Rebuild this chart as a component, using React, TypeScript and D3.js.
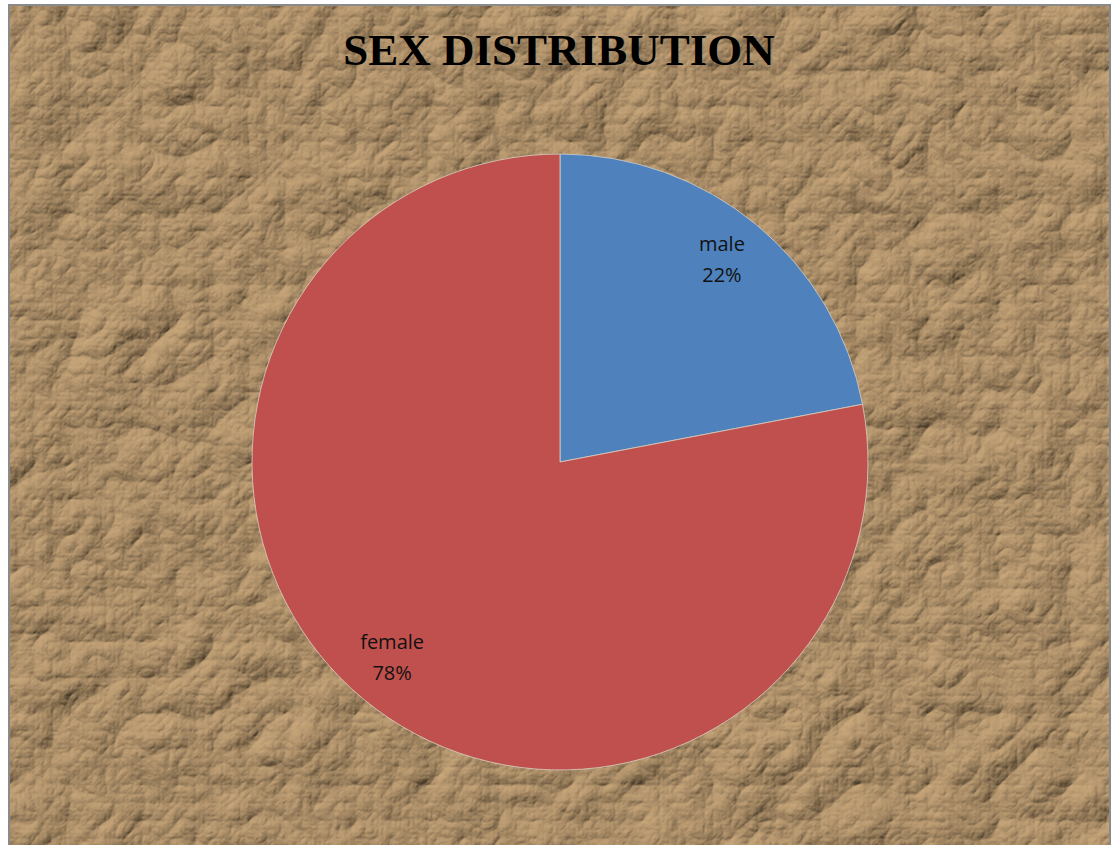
import React from "react";
import * as d3 from "d3";

const categories = ["male", "female"];
const values = [22, 78];
const colors = ["#4f81bd", "#c0504d"];
const title = "SEX DISTRIBUTION";

export default function App() {
  const W = 1116, H = 845;
  const cx = 560, cy = 462, r = 308;
  const data = categories.map((c, i) => ({ c, v: values[i], color: colors[i] }));
  const pie = d3.pie<any>().value((d) => d.v).sort(null);
  const arcs = pie(data);
  const arc = d3.arc<any>().innerRadius(0).outerRadius(r);
  const labelArc = d3.arc<any>().innerRadius(r * 0.84).outerRadius(r * 0.84);
  const total = d3.sum(values);
  return (
    <svg width={W} height={H} style={{ position: "absolute", left: 0, top: 0 }}>
      <defs>
        <filter id="paper" x="0" y="0" width="100%" height="100%">
          <feTurbulence type="turbulence" baseFrequency="0.014" numOctaves="5" seed="11" result="noise" />
          <feDiffuseLighting in="noise" lightingColor="#f2e0c0" surfaceScale="7" diffuseConstant="1.1" result="light">
            <feDistantLight azimuth="235" elevation="38" />
          </feDiffuseLighting>
          <feComposite in="light" in2="SourceGraphic" operator="arithmetic" k1="0.85" k2="0.2" k3="0.18" k4="0" />
        </filter>
      </defs>
      <rect x={9} y={5} width={1101} height={845} fill="#a98c64" filter="url(#paper)" />
      <path d="M9,850 V5 H1110 V850" fill="none" stroke="#8a8a8a" strokeWidth={2} />
      <text x={559} y={65} textAnchor="middle" fontFamily="'Liberation Serif', 'Times New Roman', serif" fontWeight="bold" fontSize={45} fill="#000">
        {title}
      </text>
      <g transform={`translate(${cx},${cy})`}>
        {arcs.map((a, i) => (
          <path key={i} d={arc(a) as string} fill={a.data.color} stroke="#d8d0c4" strokeWidth={0.8} />
        ))}
        {arcs.map((a, i) => {
          const [x, y] = labelArc.centroid(a);
          return (
            <text key={"l" + i} x={x - 3} y={y} textAnchor="middle" fontFamily="'Open Sans', Lato, sans-serif" fontSize={20} fill="#111">
              <tspan x={x - 3} dy={-12}>{a.data.c}</tspan>
              <tspan x={x - 3} dy={31}>{Math.round((a.data.v / total) * 100)}%</tspan>
            </text>
          );
        })}
      </g>
    </svg>
  );
}
